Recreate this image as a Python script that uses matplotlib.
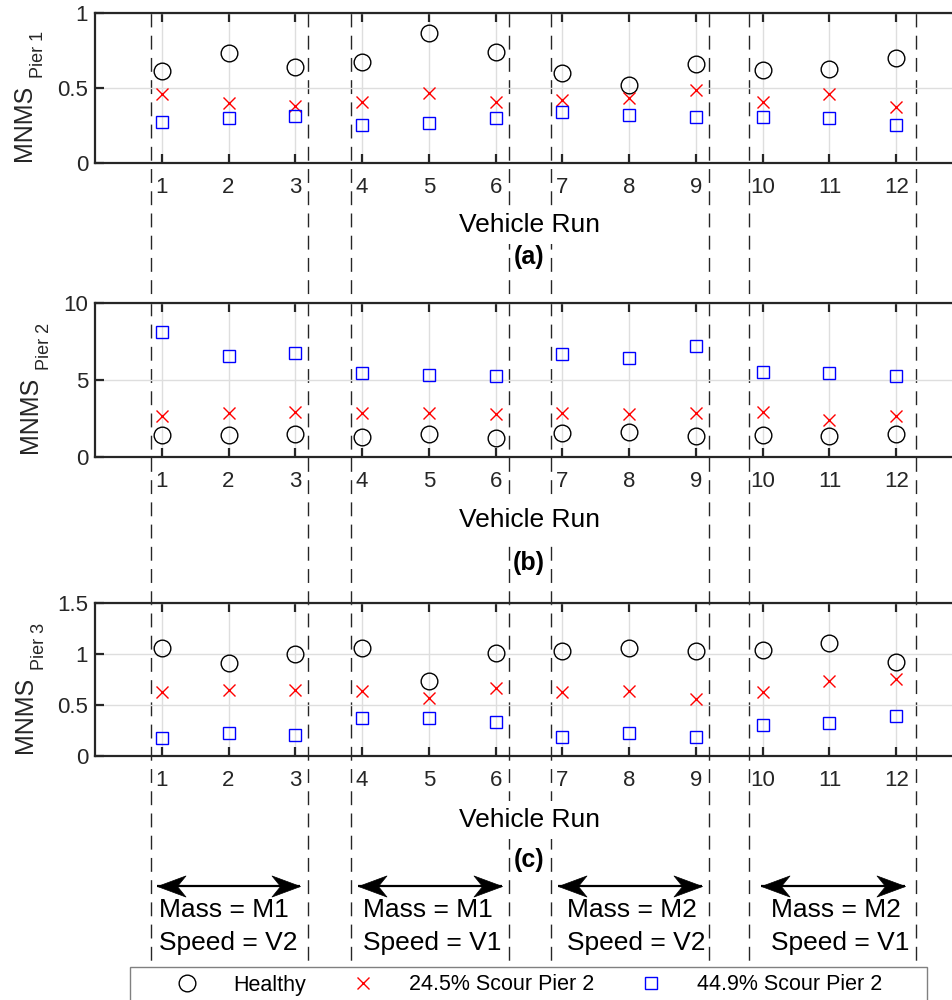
import numpy as np
import matplotlib
matplotlib.use('Agg')
import matplotlib.pyplot as plt
from matplotlib.patches import Rectangle
from matplotlib.path import Path
from matplotlib.transforms import offset_copy

plt.rcParams['font.family'] = ['Liberation Sans', 'DejaVu Sans']

# ---------------- data ----------------
runs = list(range(1, 13))
run_labels = [str(r) for r in runs]

healthy_p1 = [0.613, 0.731, 0.638, 0.675, 0.869, 0.738, 0.598, 0.520, 0.660, 0.620, 0.627, 0.698]
scour245_p1 = [0.460, 0.402, 0.380, 0.405, 0.465, 0.409, 0.420, 0.435, 0.487, 0.409, 0.460, 0.371]
scour449_p1 = [0.271, 0.298, 0.313, 0.251, 0.264, 0.298, 0.342, 0.320, 0.304, 0.304, 0.298, 0.253]

healthy_p2 = [1.41, 1.41, 1.48, 1.30, 1.52, 1.26, 1.57, 1.63, 1.37, 1.46, 1.35, 1.48]
scour245_p2 = [2.65, 2.83, 2.93, 2.87, 2.87, 2.76, 2.87, 2.76, 2.83, 2.89, 2.39, 2.65]
scour449_p2 = [8.09, 6.59, 6.74, 5.48, 5.30, 5.28, 6.70, 6.41, 7.22, 5.54, 5.43, 5.26]

healthy_p3 = [1.055, 0.909, 0.997, 1.055, 0.737, 1.006, 1.029, 1.055, 1.029, 1.042, 1.104, 0.925]
scour245_p3 = [0.630, 0.649, 0.646, 0.640, 0.565, 0.666, 0.623, 0.640, 0.558, 0.623, 0.737, 0.753]
scour449_p3 = [0.175, 0.227, 0.208, 0.370, 0.370, 0.338, 0.185, 0.224, 0.185, 0.308, 0.325, 0.390]

series_labels = ['Healthy', '24.5% Scour Pier 2', '44.9% Scour Pier 2']
ylabel_main = 'MNMS'
ylabel_subs = ['Pier 1', 'Pier 2', 'Pier 3']
yticks_list = [[0, 0.5, 1], [0, 5, 10], [0, 0.5, 1, 1.5]]
panel_tags = ['(a)', '(b)', '(c)']
x_label = 'Vehicle Run'

# groups of runs (data units on the run axis)
group_bounds = [(0.84, 3.19), (3.83, 6.20), (6.83, 9.19), (9.79, 12.30)]
group_arrows = [(0.93, 3.07), (3.94, 6.09), (6.93, 9.09), (9.97, 12.13)]
group_text_x = [0.96, 4.01, 7.07, 10.12]
group_mass = ['M1', 'M1', 'M2', 'M2']
group_speed = ['V2', 'V1', 'V2', 'V1']

panel_data = [
    (healthy_p1, scour245_p1, scour449_p1),
    (healthy_p2, scour245_p2, scour449_p2),
    (healthy_p3, scour245_p3, scour449_p3),
]

# ---------------- layout ----------------
W, H = 953, 1000
fig = plt.figure(figsize=(W / 100, H / 100), dpi=100)
fig.patch.set_facecolor('white')

XLIM = (0, 12.85)
XLABEL_CENTER = 6.5
ax_left_px, ax_w_px = 95, 858
panels_px = [(13, 163), (303, 457), (603, 756)]
tag_off_px = [94, 106, 104]
xlabel_off_px = [62, 63, 64]
ylabel_shift_px = [0, 6, 1]

L = ax_left_px / W
Wf = ax_w_px / W
span = XLIM[1] - XLIM[0]

# overlay (figure-wide) axis aligned with the run axis
ov = fig.add_axes([0, 0, 1, 1], zorder=-1)
ov.set_axis_off()
ov.set_xlim(XLIM[0] - L / Wf * span, XLIM[0] + (1 - L) / Wf * span)
ov.set_ylim(0, 1)

y_top = 1 - 13 / H
y_bot = 1 - 964 / H
for a, b in group_bounds:
    for xv in (a, b):
        ov.plot([xv, xv], [y_top, y_bot], color='#262626', lw=1.0, dashes=(10, 6))

right_head = Path([(0, 0), (-1, 0.37), (-0.7, 0), (-1, -0.37), (0, 0)],
                  [Path.MOVETO, Path.LINETO, Path.LINETO, Path.LINETO, Path.CLOSEPOLY])
left_head = Path([(0, 0), (1, 0.37), (0.7, 0), (1, -0.37), (0, 0)],
                 [Path.MOVETO, Path.LINETO, Path.LINETO, Path.LINETO, Path.CLOSEPOLY])

y_arrow = 1 - 886 / H
y_mass = 1 - 910 / H
y_speed = 1 - 943 / H
for (xa, xb), xt, m, s in zip(group_arrows, group_text_x, group_mass, group_speed):
    ov.plot([xa, xb], [y_arrow, y_arrow], color='black', lw=1.6, solid_capstyle='butt')
    ov.plot([xb], [y_arrow], marker=right_head, ms=41, color='black', mew=0.5, ls='none')
    ov.plot([xa], [y_arrow], marker=left_head, ms=41, color='black', mew=0.5, ls='none')
    ov.text(xt, y_mass, f'Mass = {m}', ha='left', va='center', fontsize=19, color='black')
    ov.text(xt, y_speed, f'Speed = {s}', ha='left', va='center', fontsize=19, color='black')

handles = None
for i, ((top, bot), (h, s1, s2)) in enumerate(zip(panels_px, panel_data)):
    hpx = bot - top
    ax = fig.add_axes([L, 1 - bot / H, Wf, hpx / H])
    ax.set_facecolor('none')
    l1, = ax.plot(runs, h, ls='none', marker='o', ms=12, mfc='none', mec='black', mew=1.0)
    l2, = ax.plot(runs, s1, ls='none', marker='x', ms=8, mec='red', mew=1.0)
    l3, = ax.plot(runs, s2, ls='none', marker='s', ms=9.3, mfc='none', mec='blue', mew=1.0)
    if handles is None:
        handles = [l1, l2, l3]
    yt = yticks_list[i]
    ax.set_xlim(*XLIM)
    ax.set_ylim(yt[0], yt[-1])
    ax.set_xticks(runs)
    ax.set_xticklabels(run_labels)
    ax.set_yticks(yt)
    ax.set_yticklabels([f'{v:g}' for v in yt])
    ax.grid(True, color='#dedede', lw=1.0)
    for sp in ax.spines.values():
        sp.set_linewidth(1.6)
        sp.set_color('#262626')
    ax.spines['right'].set_visible(False)
    ax.tick_params(direction='in', length=6.5, width=1.6, top=True, right=False,
                   labelsize=16, color='#262626', labelcolor='#262626')
    ax.tick_params(axis='x', pad=10)
    ax.tick_params(axis='y', pad=5)

    # y label: MNMS with a dropped subscript
    sh = ylabel_shift_px[i]
    x_main = -(ax_left_px - 30.7 - sh) / ax_w_px
    x_sub = -(ax_left_px - 42.7 - sh) / ax_w_px
    ax.text(x_main, 0.5, ylabel_main, rotation=90, rotation_mode='anchor',
            ha='right', va='baseline', fontsize=18, color='#262626',
            transform=offset_copy(ax.transAxes, fig=fig, x=0, y=3, units='dots'))
    ax.text(x_sub, 0.5, ylabel_subs[i], rotation=90, rotation_mode='anchor',
            ha='left', va='baseline', fontsize=13, color='#262626',
            transform=offset_copy(ax.transAxes, fig=fig, x=0, y=10, units='dots'))

    xc = (XLABEL_CENTER - XLIM[0]) / span
    ax.set_xlabel(x_label, fontsize=19, color='black',
                  bbox=dict(facecolor='white', edgecolor='none', pad=5))
    ax.xaxis.set_label_coords(xc, -xlabel_off_px[i] / hpx)
    ax.xaxis.label.set_va('center')
    ax.text(xc, -tag_off_px[i] / hpx, panel_tags[i], transform=ax.transAxes,
            ha='center', va='center', fontsize=18, fontweight='bold', color='black')

# legend box and legend
fig.add_artist(Rectangle((130 / W, -0.05), (927 - 130) / W, 0.05 + (1 - 967 / H),
                         transform=fig.transFigure, facecolor='white',
                         edgecolor='#808080', lw=1.0, zorder=1))
fig.legend(handles, series_labels, loc='center left',
           bbox_to_anchor=(165.5 / W, 1 - 985 / H), ncol=3, frameon=False,
           fontsize=15.5, handlelength=2.0, handletextpad=1.14, columnspacing=1.65,
           borderpad=0, borderaxespad=0)

fig.savefig('out.png', dpi=100)
